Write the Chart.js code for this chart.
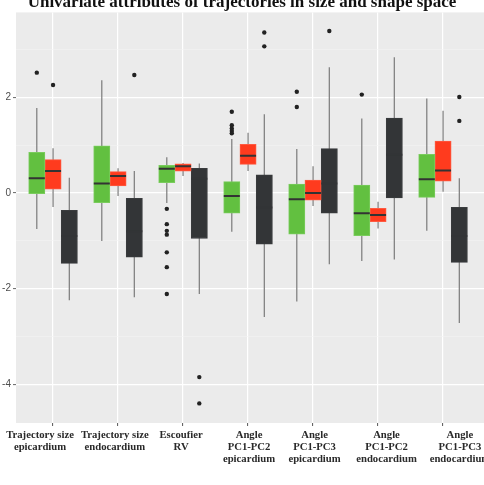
<!DOCTYPE html>
<html><head><meta charset="utf-8">
<script src="https://cdn.jsdelivr.net/npm/chart.js@4.4.1/dist/chart.umd.min.js"></script>
<style>
html,body{margin:0;padding:0;background:#fff;}
#wrap{position:relative;width:484px;height:485px;overflow:hidden;}
#c{position:absolute;left:0;top:-8px;}
</style></head><body>
<div id="wrap"><canvas id="c" width="484" height="493" style="width:484px;height:493px"></canvas></div>
<script>
const titleText = 'Univariate attributes of trajectories in size and shape space';
const categories = [
  ['Trajectory size', 'epicardium'],
  ['Trajectory size', 'endocardium'],
  ['Escoufier', 'RV'],
  ['Angle', 'PC1-PC2', 'epicardium'],
  ['Angle', 'PC1-PC3', 'epicardium'],
  ['Angle', 'PC1-PC2', 'endocardium'],
  ['Angle', 'PC1-PC3', 'endocardium']
];
const yTicks = [-4, -2, 0, 2];
const yTickLabels = ['-4', '-2', '0', '2'];
const yMinorTicks = [-3, -1, 1, 3];

// green group
const gLow  = [-0.75, -1.00, -0.21, -0.81, -2.27, -1.42, -0.79];
const gQ1   = [-0.01, -0.20,  0.22, -0.42, -0.86, -0.89, -0.09];
const gMed  = [ 0.31,  0.20,  0.51, -0.06, -0.13, -0.42,  0.29];
const gQ3   = [ 0.85,  0.99,  0.58,  0.24,  0.19,  0.17,  0.81];
const gHigh = [ 1.78,  2.36,  0.75,  1.13,  0.92,  1.56,  1.98];
const gOut  = [[2.52], [], [-0.33, -0.65, -0.79, -0.87, -1.24, -1.55, -2.11], [1.70, 1.42, 1.35, 1.30, 1.25], [2.12, 1.80], [2.06], []];
// red group
const rLow  = [-0.29, -0.06, 0.36, 0.46, -0.27, -0.74, 0.03];
const rQ1   = [ 0.08,  0.15, 0.46, 0.60, -0.15, -0.60, 0.25];
const rMed  = [ 0.46,  0.36, 0.56, 0.78,  0.00, -0.46, 0.47];
const rQ3   = [ 0.70,  0.45, 0.61, 1.02,  0.27, -0.32, 1.09];
const rHigh = [ 0.94,  0.52, 0.63, 1.26,  0.56, -0.18, 1.72];
const rOut  = [[2.26], [], [], [], [], [], []];
// dark group
const dLow  = [-2.24, -2.18, -2.11, -2.59, -1.49, -1.39, -2.72];
const dQ1   = [-1.47, -1.34, -0.95, -1.07, -0.42, -0.10, -1.45];
const dMed  = [-0.90, -0.80,  0.30, -0.30,  0.20,  0.80, -0.90];
const dQ3   = [-0.36, -0.11,  0.52,  0.38,  0.93,  1.57, -0.30];
const dHigh = [ 0.32,  0.46,  0.62,  1.65,  2.63,  2.84,  0.31];
const dOut  = [[], [2.47], [-3.85, -4.40], [3.36, 3.07], [3.39], [], [2.01, 1.51]];

const groups = [
  {low: gLow, q1: gQ1, med: gMed, q3: gQ3, high: gHigh, out: gOut, off: -0.25, fill: '#62c040', edge: '#79cc5c', medColor: '#333333'},
  {low: rLow, q1: rQ1, med: rMed, q3: rQ3, high: rHigh, out: rOut, off: 0, fill: '#ff3b1e', edge: '#ff5a40', medColor: '#333333'},
  {low: dLow, q1: dQ1, med: dMed, q3: dQ3, high: dHigh, out: dOut, off: 0.25, fill: '#333537', edge: '#3a3c3e', medColor: '#323436'}
];

const datasets = [];
groups.forEach((g, gi) => {
  datasets.push({
    type: 'bar',
    data: categories.map((_, i) => ({x: i + g.off, y: [g.low[i], g.high[i]]})),
    grouped: false,
    backgroundColor: '#7a7a7a',
    borderWidth: 0,
    maxBarThickness: 1.2,
    order: 20 + gi
  });
  datasets.push({
    type: 'bar',
    data: categories.map((_, i) => ({x: i, y: [g.q1[i], g.q3[i]]})),
    backgroundColor: g.fill,
    borderColor: g.edge,
    borderWidth: 1,
    borderSkipped: false,
    barThickness: 16.25,
    order: 5 + gi
  });
  datasets.push({
    type: 'scatter',
    data: categories.map((_, i) => ({x: i + g.off, y: g.med[i]})),
    pointStyle: 'line',
    pointRadius: 8,
    pointHoverRadius: 8,
    pointBorderWidth: 2,
    pointBorderColor: g.medColor,
    order: 2
  });
  datasets.push({
    type: 'scatter',
    data: g.out.flatMap((arr, i) => arr.map(v => ({x: i + g.off, y: v}))),
    pointStyle: 'circle',
    pointRadius: 2.2,
    pointHoverRadius: 2.2,
    pointBorderWidth: 0,
    pointBackgroundColor: '#222222',
    order: 1
  });
});

const panelBg = {
  id: 'panelBg',
  beforeDraw(chart) {
    const {ctx, chartArea: a} = chart;
    ctx.save();
    ctx.fillStyle = '#ffffff';
    ctx.fillRect(0, 0, chart.width, chart.height);
    ctx.fillStyle = '#ebebeb';
    ctx.fillRect(a.left, a.top, a.right - a.left, a.bottom - a.top);
    ctx.restore();
  }
};

// horizontal nudge of each category's label block, in category units (layout only)
const labelNudge = [-0.20, -0.05, -0.03, 0.015, 0.023, 0.13, 0.26];

new Chart(document.getElementById('c'), {
  type: 'bar',
  data: {datasets},
  plugins: [panelBg],
  options: {
    responsive: false,
    animation: false,
    events: [],
    layout: {padding: 0, autoPadding: false},
    plugins: {
      legend: {display: false},
      tooltip: {enabled: false},
      title: {
        display: true,
        text: titleText,
        color: '#111111',
        font: {family: 'Liberation Serif', size: 17, weight: 'bold'},
        padding: {top: 0, bottom: 0}
      }
    },
    scales: {
      x: {
        type: 'linear',
        position: 'bottom',
        weight: 0,
        min: -0.57,
        max: 6.63,
        offset: false,
        afterBuildTicks: s => { s.ticks = categories.map((_, i) => ({value: i})); },
        afterFit: s => { s.height = 3; s.paddingLeft = 0; s.paddingRight = 0; },
        border: {display: false},
        grid: {offset: false, color: '#ffffff', lineWidth: 1.2, tickColor: '#555555', tickLength: 3, tickWidth: 1},
        ticks: {display: false, autoSkip: false, maxRotation: 0, minRotation: 0}
      },
      xl: {
        type: 'linear',
        position: 'bottom',
        axis: 'x',
        weight: 1,
        min: -0.57,
        max: 6.63,
        offset: false,
        afterBuildTicks: s => { s.ticks = categories.map((_, i) => ({value: i + labelNudge[i]})); },
        afterFit: s => { s.height = 59; s.paddingLeft = 0; s.paddingRight = 0; },
        border: {display: false},
        grid: {display: false, drawOnChartArea: false, drawTicks: false},
        ticks: {
          autoSkip: false, maxRotation: 0, minRotation: 0, padding: 3,
          color: '#2a2a2a',
          font: {family: 'Liberation Serif', size: 10.7, weight: 'bold', lineHeight: 1.12},
          callback: (v, i) => categories[i]
        }
      },
      y: {
        type: 'linear',
        min: -4.81,
        max: 3.78,
        afterBuildTicks: s => { s.ticks = yTicks.concat(yMinorTicks).sort((a, b) => a - b).map(v => ({value: v})); },
        afterFit: s => { s.width = 16; s.paddingTop = 0; s.paddingBottom = 0; },
        border: {display: false},
        grid: {
          color: c => yTicks.includes(c.tick.value) ? '#ffffff' : '#f4f4f4',
          lineWidth: c => yTicks.includes(c.tick.value) ? 1.2 : 0.6,
          tickColor: c => yTicks.includes(c.tick.value) ? '#666666' : 'rgba(0,0,0,0)',
          tickLength: 3,
          tickWidth: 1
        },
        ticks: {
          padding: 2,
          color: '#4d4d4d',
          font: {family: 'Liberation Sans', size: 10},
          callback: v => { const k = yTicks.indexOf(v); return k >= 0 ? yTickLabels[k] : ''; }
        }
      }
    }
  }
});
</script>
</body></html>
